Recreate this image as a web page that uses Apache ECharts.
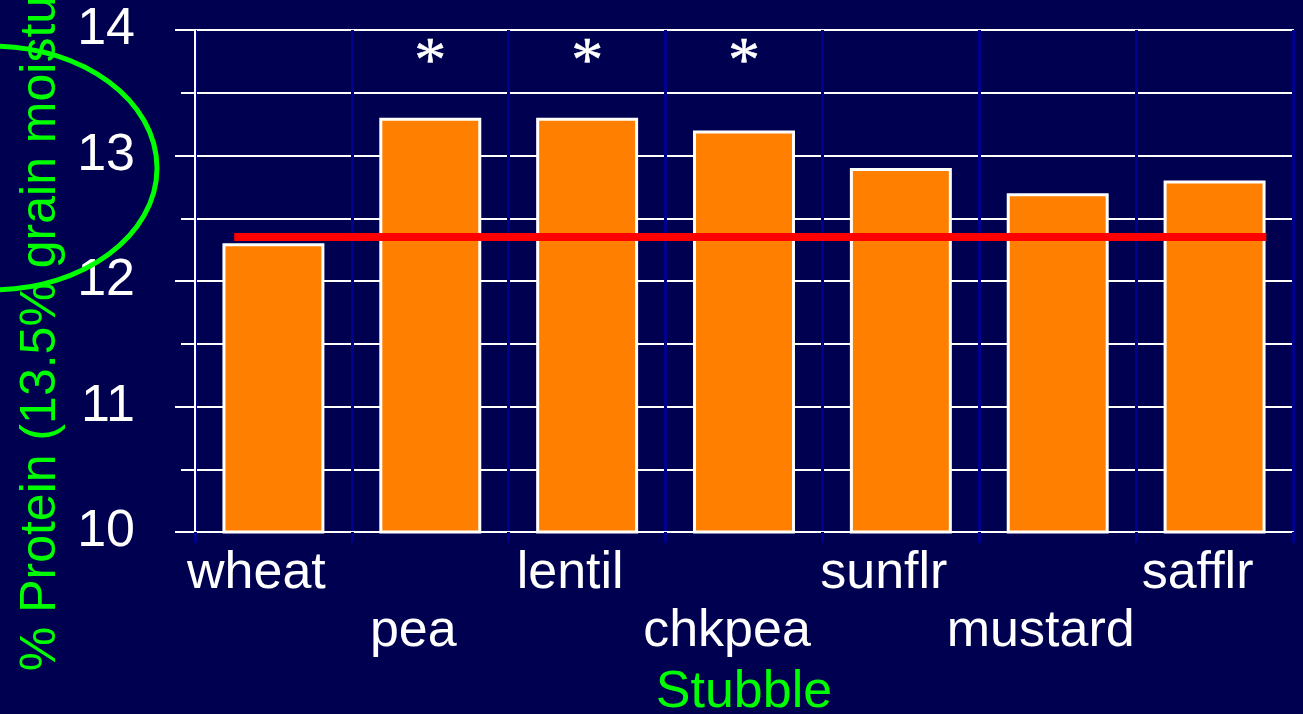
<!DOCTYPE html>
<html>
<head>
<meta charset="utf-8">
<title>Protein by stubble</title>
<script src="https://cdn.jsdelivr.net/npm/echarts@6/dist/echarts.min.js"></script>
<style>
    html, body { margin: 0; padding: 0; background: #000050; }
    #chart { width: 1303px; height: 714px; }
</style>
</head>
<body>
<div id="chart"></div>
<script>
// 数据
let stubble = ['wheat', 'pea', 'lentil', 'chkpea', 'sunflr', 'mustard', 'safflr'];
let protein = [12.3, 13.3, 13.3, 13.2, 12.9, 12.7, 12.8];
let sigMarks = ['', '*', '*', '*', '', '', ''];
let wheatLevel = 12.35;
let yTicks = [10, 11, 12, 13, 14];

window.addEventListener('load', function() {
    let myChart = echarts.init(document.querySelector('#chart'));

    let white = '#ffffff',
        navy = '#00008c',
        green = '#00ff00';

    let option = {
        backgroundColor: '#000050',
        animation: false,
        grid: {
            left: 195,
            right: 10,
            top: 30,
            bottom: 182,
            show: true,
            borderColor: white,
            borderWidth: 2,
            outerBoundsMode: 'none'
        },
        xAxis: [{
            type: 'category',
            data: stubble,
            name: 'Stubble',
            nameLocation: 'middle',
            nameGap: 135,
            nameTextStyle: {
                color: green,
                fontSize: 52,
                fontFamily: 'Liberation Sans'
            },
            axisLine: {
                lineStyle: { color: white, width: 2 }
            },
            axisTick: {
                show: true,
                length: 11,
                lineStyle: { color: navy, width: 3 }
            },
            splitLine: {
                show: true,
                lineStyle: { color: navy, width: 3 }
            },
            axisLabel: {
                interval: 0,
                color: white,
                fontSize: 52,
                fontFamily: 'Liberation Sans',
                lineHeight: 58,
                margin: 13,
                padding: [0, 34, 0, 0],
                formatter: function(v, i) {
                    return i % 2 ? '\n' + v : v;
                }
            }
        }, {
            // 隐藏的数值轴, 用于红色参考线
            type: 'value',
            min: 0,
            max: stubble.length,
            show: false
        }],
        yAxis: {
            type: 'value',
            min: yTicks[0],
            max: yTicks[yTicks.length - 1],
            interval: 1,
            name: '% Protein (13.5% grain moisture)',
            nameLocation: 'middle',
            nameGap: 110,
            nameTextStyle: {
                color: green,
                fontSize: 50,
                fontFamily: 'Liberation Sans',
                padding: [0, 44, 0, 0]
            },
            axisLine: {
                show: true,
                lineStyle: { color: white, width: 2 }
            },
            axisTick: {
                show: true,
                length: 20,
                lineStyle: { color: white, width: 2 }
            },
            minorTick: {
                show: true,
                splitNumber: 2,
                length: 14,
                lineStyle: { color: white, width: 2 }
            },
            splitLine: {
                lineStyle: { color: white, width: 2 }
            },
            minorSplitLine: {
                show: true,
                lineStyle: { color: white, width: 2 }
            },
            axisLabel: {
                color: white,
                fontSize: 52,
                fontFamily: 'Liberation Sans',
                margin: 60
            }
        },
        series: [{
            name: '% Protein',
            type: 'bar',
            barWidth: '65%',
            itemStyle: {
                color: '#ff8000',
                borderColor: white,
                borderWidth: 3
            },
            data: protein
        }, {
            name: 'wheat level',
            type: 'line',
            xAxisIndex: 1,
            symbol: 'none',
            z: 5,
            lineStyle: { color: '#ff0000', width: 8 },
            data: [[0.25, wheatLevel], [6.83, wheatLevel]]
        }, {
            name: 'sig',
            type: 'scatter',
            symbolSize: 0,
            z: 6,
            itemStyle: { opacity: 1 },
            label: {
                show: true,
                position: 'inside',
                color: white,
                fontSize: 64,
                fontFamily: 'Liberation Serif',
                textBorderColor: white,
                textBorderWidth: 0.5,
                formatter: function(p) {
                    return sigMarks[p.dataIndex];
                }
            },
            data: sigMarks.map(function(s) {
                return s ? 13.73 : '-';
            })
        }],
        graphic: [{
            type: 'ellipse',
            z: 10,
            shape: { cx: -8, cy: 168, rx: 165, ry: 122 },
            style: { fill: 'none', stroke: green, lineWidth: 5 }
        }]
    };

    myChart.setOption(option);
});
</script>
</body>
</html>
